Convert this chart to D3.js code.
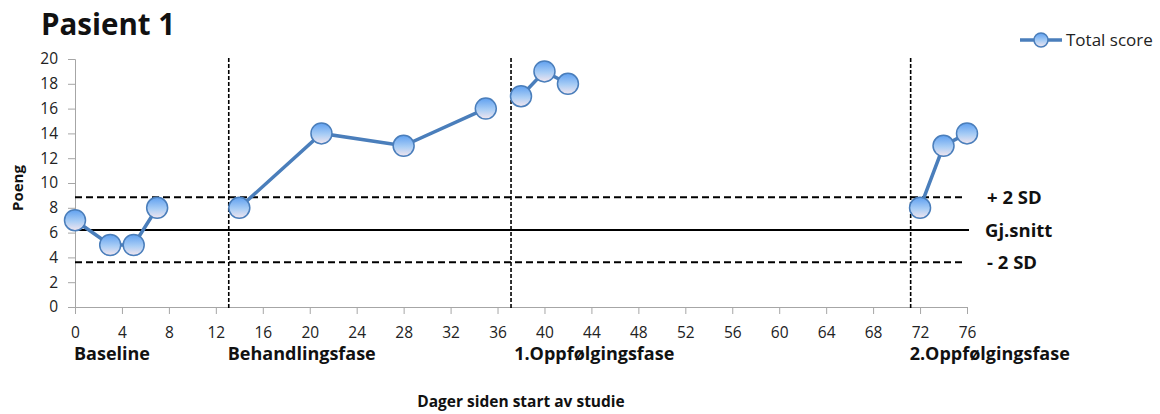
<!DOCTYPE html>
<html><head><meta charset="utf-8">
<script src="https://cdn.jsdelivr.net/npm/d3@7"></script>
<style>body{margin:0;background:#fff;}svg{display:block;font-family:"Open Sans",sans-serif;}</style>
</head><body>
<script>
const title = "Pasient 1";
const seriesName = "Total score";
const phases = [
  {name:"Baseline", days:[0,3,5,7], scores:[7,5,5,8]},
  {name:"Behandlingsfase", days:[14,21,28,35], scores:[8,14,13,16]},
  {name:"1.Oppfølgingsfase", days:[38,40,42], scores:[17,19,18]},
  {name:"2.Oppfølgingsfase", days:[72,74,76], scores:[8,13,14]}
];
const phaseStarts = [0, 13.1, 37.5, 71.2];
const phaseDividers = [13.1, 37.15, 71.2];
const refValues = [8.85, 6.2, 3.6];
const refLabels = ["+ 2 SD", "Gj.snitt", "- 2 SD"];
const xTicks = d3.range(0, 77, 4);
const yTicks = d3.range(0, 21, 2);
const xTitle = "Dager siden start av studie";
const yTitle = "Poeng";

const W = 1160, H = 414;
const svg = d3.select("body").append("svg").attr("width", W).attr("height", H);
const x = d3.scaleLinear().domain([0, 76]).range([75, 967]);
const y = d3.scaleLinear().domain([0, 20]).range([307, 59]);

const defs = svg.append("defs");
const g = defs.append("linearGradient").attr("id","mk").attr("x1",0).attr("y1",0).attr("x2",0).attr("y2",1);
g.append("stop").attr("offset","0%").attr("stop-color","#5fa0f0");
g.append("stop").attr("offset","55%").attr("stop-color","#a9cdf5");
g.append("stop").attr("offset","100%").attr("stop-color","#f3e6ee");

svg.append("text").attr("x", 41).attr("y", 35).attr("font-size", 29.5).attr("font-weight", "bold")
  .attr("fill","#111").text(title);

// axes
const yAxis = svg.append("g").attr("transform", `translate(${x(0)},0)`)
  .call(d3.axisLeft(y).tickValues(yTicks).tickSize(7).tickPadding(10));
const xAxis = svg.append("g").attr("transform", `translate(0,${y(0)})`)
  .call(d3.axisBottom(x).tickValues(xTicks).tickSize(7).tickPadding(13));
[yAxis, xAxis].forEach(a => {
  a.select(".domain").attr("stroke", "#a6a6a6");
  a.selectAll(".tick line").attr("stroke", "#a6a6a6");
  a.selectAll(".tick text").attr("font-size", 15.5).attr("fill", "#222").attr("font-family","'Open Sans',sans-serif");
});
xAxis.select(".domain").attr("d", `M${x(0)},0.5H${x(76)}`);

// reference lines
refValues.forEach((v, i) => {
  svg.append("line").attr("x1", x(0)).attr("x2", i === 1 ? 969 : 963)
    .attr("y1", y(v)).attr("y2", y(v)).attr("stroke", "#000").attr("stroke-width", 2)
    .attr("stroke-dasharray", i === 1 ? null : "7,4");
  svg.append("text").attr("x", i === 1 ? 985 : 987).attr("y", y(v) + 6.5)
    .attr("font-size", 18.5).attr("font-weight", "bold").attr("fill", "#111").text(refLabels[i]);
});

// phase dividers
phaseDividers.forEach(d => {
  svg.append("line").attr("x1", x(d)).attr("x2", x(d)).attr("y1", 58).attr("y2", 310)
    .attr("stroke", "#000").attr("stroke-width", 1.6).attr("stroke-dasharray", "4,2");
});

// phase labels
phases.forEach((p, i) => {
  svg.append("text").attr("x", x(phaseStarts[i]) - 1).attr("y", 360).attr("font-size", 18)
    .attr("font-weight", "bold").attr("fill", "#111").text(p.name);
});

// series
const line = d3.line().x(d => x(d[0])).y(d => y(d[1]));
phases.forEach(p => {
  const pts = p.days.map((d, i) => [d, p.scores[i]]);
  svg.append("path").attr("d", line(pts)).attr("fill", "none").attr("stroke", "#4a7ebb").attr("stroke-width", 3.5);
});
phases.forEach(p => {
  p.days.forEach((d, i) => {
    svg.append("circle").attr("cx", x(d)).attr("cy", y(p.scores[i])).attr("r", 10.5)
      .attr("fill", "url(#mk)").attr("stroke", "#4a7ebb").attr("stroke-width", 1.5);
  });
});

// axis titles
svg.append("text").attr("x", 521).attr("y", 407).attr("text-anchor", "middle").attr("font-size", 15.5)
  .attr("font-weight", "bold").attr("fill", "#111").text(xTitle);
svg.append("text").attr("transform", "translate(23,188) rotate(-90)").attr("text-anchor", "middle")
  .attr("font-size", 15).attr("font-weight", "bold").attr("fill", "#111").text(yTitle);

// legend
svg.append("line").attr("x1", 1020).attr("x2", 1062).attr("y1", 40).attr("y2", 40).attr("stroke", "#4a7ebb").attr("stroke-width", 3.5);
svg.append("circle").attr("cx", 1041).attr("cy", 40).attr("r", 7).attr("fill", "url(#mk)").attr("stroke", "#4a7ebb").attr("stroke-width", 1.5);
svg.append("text").attr("x", 1066).attr("y", 46).attr("font-size", 17).attr("fill", "#222").text(seriesName);
</script>
</body></html>
